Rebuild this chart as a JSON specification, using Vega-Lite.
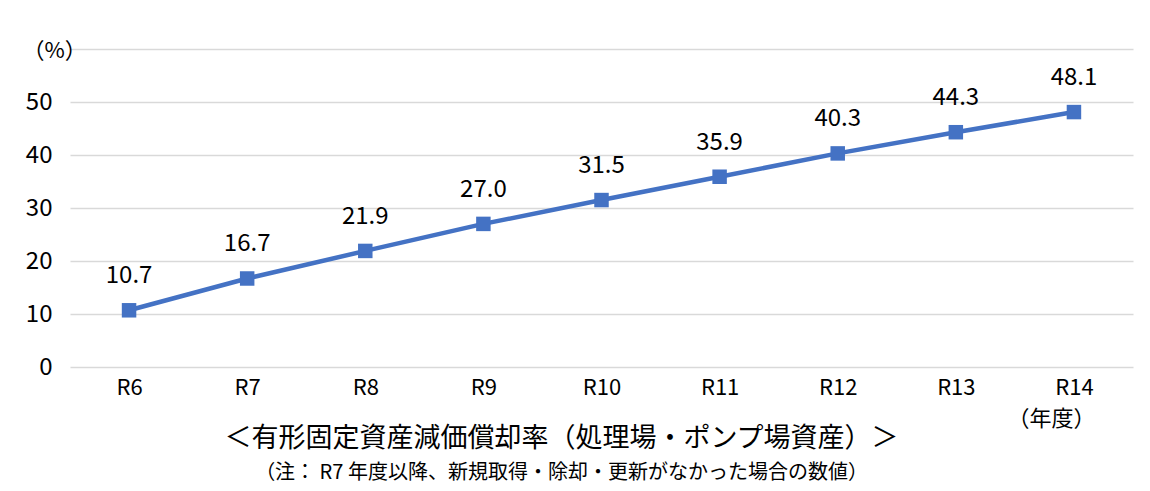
{
  "$schema": "https://vega.github.io/schema/vega-lite/v6.json",
  "autosize": {"type": "none"},
  "padding": {"left": 70, "top": 49, "right": 17, "bottom": 124},
  "width": 1063,
  "height": 318,
  "background": "white",
  "data": {"values": [
    {"year": "R6", "rate": 10.7},
    {"year": "R7", "rate": 16.7},
    {"year": "R8", "rate": 21.9},
    {"year": "R9", "rate": 27.0},
    {"year": "R10", "rate": 31.5},
    {"year": "R11", "rate": 35.9},
    {"year": "R12", "rate": 40.3},
    {"year": "R13", "rate": 44.3},
    {"year": "R14", "rate": 48.1}
  ]},
  "title": {
    "text": "＜有形固定資産減価償却率（処理場・ポンプ場資産）＞",
    "subtitle": "（注： R7 年度以降、新規取得・除却・更新がなかった場合の数値）",
    "orient": "bottom",
    "anchor": "middle",
    "dx": -40,
    "offset": -3,
    "font": "Noto Sans CJK JP",
    "fontSize": 27,
    "fontWeight": "normal",
    "color": "#000000",
    "subtitleFont": "Noto Sans CJK JP",
    "subtitleFontSize": 20,
    "subtitleColor": "#000000",
    "subtitlePadding": 10
  },
  "encoding": {
    "x": {
      "field": "year", "type": "ordinal", "sort": null,
      "axis": {
        "title": "（年度）",
        "titleX": 937, "titleY": 51, "titleAlign": "left", "titleBaseline": "middle",
        "titleFont": "Noto Sans CJK JP", "titleFontSize": 22, "titleFontWeight": "normal", "titleColor": "#000000",
        "labelAngle": 0, "labelFont": "Noto Sans CJK JP", "labelFontSize": 22, "labelColor": "#000000",
        "labelPadding": 10, "domain": false, "ticks": false, "tickSize": 0, "grid": false
      }
    },
    "y": {
      "field": "rate", "type": "quantitative",
      "scale": {"domain": [0, 60], "nice": false},
      "axis": {
        "values": [0, 10, 20, 30, 40, 50, 60],
        "labelExpr": "datum.value == 60 ? '' : datum.label",
        "title": "（%）",
        "titleAngle": 0, "titleX": -48, "titleY": 1, "titleAlign": "left", "titleBaseline": "middle",
        "titleFont": "Noto Sans CJK JP", "titleFontSize": 22, "titleFontWeight": "normal", "titleColor": "#000000",
        "labelFont": "Noto Sans CJK JP", "labelFontSize": 24, "labelColor": "#000000",
        "labelPadding": 18, "domain": false, "ticks": false, "tickSize": 0,
        "grid": true, "gridColor": "#d9d9d9", "gridWidth": 1.5
      }
    }
  },
  "layer": [
    {"mark": {"type": "line", "color": "#4472C4", "strokeWidth": 4.5}},
    {"mark": {"type": "point", "shape": "square", "filled": true, "color": "#4472C4", "size": 210, "opacity": 1}},
    {"mark": {"type": "text", "dy": -34, "font": "Noto Sans CJK JP", "fontSize": 24, "color": "#000000"},
     "encoding": {"text": {"field": "rate", "type": "quantitative", "format": ".1f"}}}
  ],
  "config": {"view": {"stroke": null}}
}
